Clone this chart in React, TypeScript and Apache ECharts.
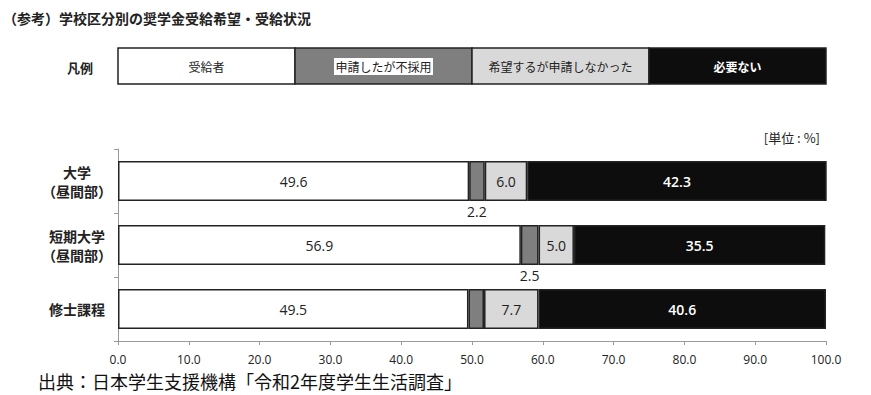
import React, { useEffect, useRef } from "react";
import * as echarts from "echarts";

const categories = ["大学\n（昼間部）", "短期大学\n（昼間部）", "修士課程"];
const seriesNames = ["受給者", "申請したが不採用", "希望するが申請しなかった", "必要ない"];
const received = [49.6, 56.9, 49.5];
const rejected = [2.2, 2.5, 2.2];
const notApplied = [6.0, 5.0, 7.7];
const notNeeded = [42.3, 35.5, 40.6];
const xMin = 0;
const xMax = 100;
const xInterval = 10;

const FONT = "'Noto Sans CJK JP', 'Noto Sans', sans-serif";
const NUMFONT = "'Open Sans', 'Noto Sans', sans-serif";
const colors = ["#ffffff", "#7f7f7f", "#d9d9d9", "#0d0d0d"];
const textColors = ["#222222", "#222222", "#222222", "#ffffff"];

export default function App() {
  const ref = useRef<HTMLDivElement>(null);
  useEffect(() => {
    if (!ref.current) return;
    const chart = echarts.init(ref.current, null, { renderer: "svg" });
    const legLeft = 118;
    const legTop = 48;
    const legW = 708;
    const legH = 36;
    const segW = legW / 4;
    const legendEls: any[] = [];
    seriesNames.forEach((n, i) => {
      legendEls.push({
        type: "rect",
        shape: { x: legLeft + i * segW, y: legTop, width: segW, height: legH },
        style: { fill: colors[i], stroke: "#222", lineWidth: 1.5 },
      });
      if (i === 1) {
        legendEls.push({
          type: "rect",
          shape: { x: legLeft + i * segW + 39, y: legTop + 10, width: 99, height: 17 },
          style: { fill: "#ffffff" },
        });
      }
      legendEls.push({
        type: "text",
        x: legLeft + i * segW + segW / 2,
        y: legTop + legH / 2,
        style: {
          text: n,
          fill: i === 3 ? "#ffffff" : "#222222",
          font: `${i === 3 ? "bold " : ""}12px ${FONT}`,
          align: "center",
          verticalAlign: "middle",
        },
      });
    });

    const mkSeries = (name: string, data: any[], idx: number) => ({
      name,
      type: "bar",
      stack: "total",
      barWidth: 40,
      data,
      itemStyle: { color: colors[idx], borderColor: "#222", borderWidth: 1.5 },
      label: {
        show: true,
        position: idx === 1 ? "bottom" : "inside",
        distance: 3,
        color: idx === 1 ? "#222222" : textColors[idx],
        fontSize: 14,
        fontFamily: NUMFONT,
        fontWeight: idx === 3 ? 600 : "normal",
        formatter: (p: any) => Number(p.value).toFixed(1),
      },
    });

    chart.setOption({
      animation: false,
      backgroundColor: "#ffffff",
      grid: { left: 118, right: 45, top: 149, bottom: 54, containLabel: false },
      xAxis: {
        type: "value",
        min: xMin,
        max: xMax,
        interval: xInterval,
        axisLine: { show: true, lineStyle: { color: "#9a9a9a", width: 1 } },
        axisTick: { show: true, length: 4, lineStyle: { color: "#9a9a9a" } },
        splitLine: { show: false },
        axisLabel: {
          margin: 12,
          color: "#222",
          fontSize: 12,
          fontFamily: NUMFONT,
          formatter: (v: number) => v.toFixed(1),
        },
      },
      yAxis: {
        type: "category",
        data: categories,
        inverse: true,
        axisLine: { show: true, lineStyle: { color: "#9a9a9a", width: 1 } },
        axisTick: { show: true, length: 4, lineStyle: { color: "#9a9a9a" } },
        axisLabel: {
          align: "center",
          margin: 41,
          color: "#222",
          fontSize: 14,
          fontWeight: "bold",
          fontFamily: FONT,
          lineHeight: 19,
        },
      },
      series: [
        mkSeries(seriesNames[0], received, 0),
        mkSeries(
          seriesNames[1],
          rejected.map((v, i) => ({ value: v, label: { show: i < 2 } })),
          1
        ),
        mkSeries(seriesNames[2], notApplied, 2),
        mkSeries(seriesNames[3], notNeeded, 3),
      ],
      graphic: [
        {
          type: "text",
          left: 3,
          top: 11,
          style: {
            text: "（参考）学校区分別の奨学金受給希望・受給状況",
            fill: "#222",
            font: `bold 14px ${FONT}`,
          },
        },
        {
          type: "text",
          x: 80,
          y: 67,
          style: {
            text: "凡例",
            fill: "#222",
            font: `bold 13px ${FONT}`,
            align: "center",
            verticalAlign: "middle",
          },
        },
        {
          type: "text",
          x: 820,
          y: 137,
          style: {
            text: "[単位 : %]",
            fill: "#222",
            font: `13px ${FONT}`,
            align: "right",
            verticalAlign: "middle",
          },
        },
        {
          type: "text",
          x: 38,
          y: 381,
          style: {
            text: "出典：日本学生支援機構「令和2年度学生生活調査」",
            fill: "#111",
            font: `18px ${FONT}`,
            align: "left",
            verticalAlign: "middle",
          },
        },
        ...legendEls,
      ],
    });
    return () => chart.dispose();
  }, []);
  return (
    <div
      ref={ref}
      style={{ position: "absolute", left: 0, top: 0, width: 871, height: 395 }}
    />
  );
}
